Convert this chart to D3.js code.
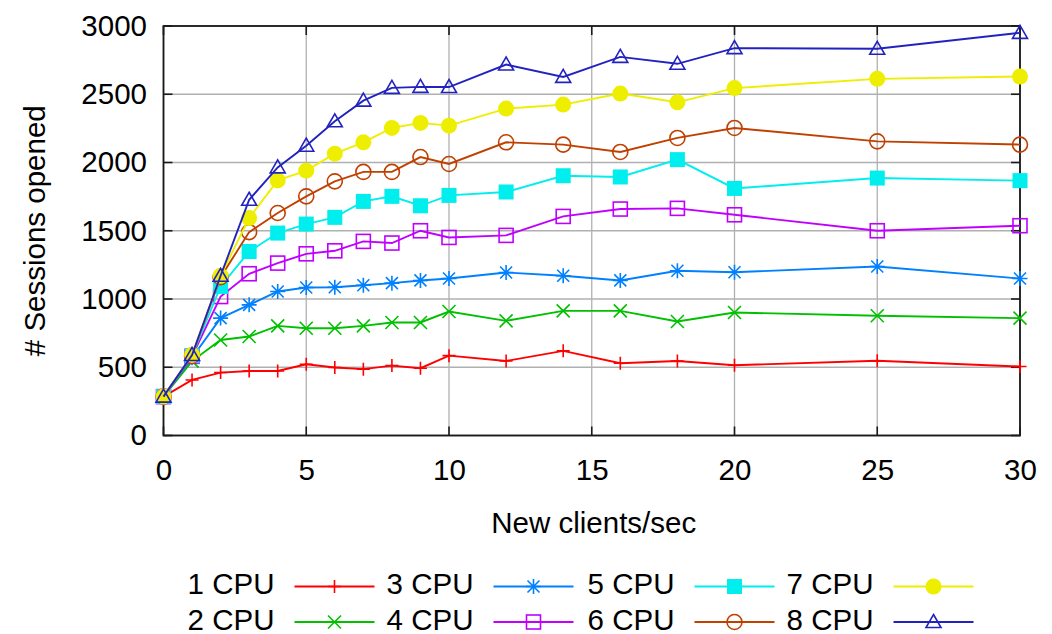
<!DOCTYPE html>
<html>
<head>
<meta charset="utf-8">
<script src="https://cdn.jsdelivr.net/npm/d3@7"></script>
<style>
  html, body { margin: 0; padding: 0; background: #fff; }
  svg { display: block; }
  text { font-family: "Liberation Sans", Arial, Helvetica, sans-serif; fill: #000; }
</style>
</head>
<body>
<svg id="chart" width="1052" height="634"></svg>
<script>
// ---- data ----
const xValues = [0, 1, 2, 3, 4, 5, 6, 7, 8, 9, 10, 12, 14, 16, 18, 20, 25, 30];
const seriesNames = ["1 CPU", "2 CPU", "3 CPU", "4 CPU", "5 CPU", "6 CPU", "7 CPU", "8 CPU"];
const cpu1 = [285, 407, 461, 473, 473, 522, 498, 486, 512, 493, 585, 546, 620, 529, 546, 515, 548, 505];
const cpu2 = [285, 545, 700, 725, 803, 786, 786, 803, 828, 828, 908, 840, 913, 913, 835, 901, 877, 860];
const cpu3 = [285, 570, 860, 957, 1055, 1084, 1086, 1101, 1116, 1136, 1150, 1194, 1170, 1136, 1207, 1196, 1238, 1150];
const cpu4 = [285, 580, 1018, 1185, 1263, 1331, 1353, 1422, 1410, 1500, 1451, 1466, 1605, 1659, 1664, 1617, 1500, 1537];
const cpu5 = [285, 585, 1092, 1348, 1483, 1549, 1598, 1715, 1752, 1683, 1759, 1784, 1903, 1894, 2021, 1810, 1886, 1867];
const cpu6 = [285, 585, 1160, 1490, 1630, 1752, 1862, 1931, 1931, 2040, 1989, 2148, 2131, 2077, 2180, 2253, 2155, 2131];
const cpu7 = [285, 590, 1170, 1593, 1869, 1940, 2065, 2148, 2253, 2290, 2270, 2395, 2424, 2505, 2441, 2545, 2613, 2630];
const cpu8 = [285, 590, 1170, 1727, 1964, 2123, 2302, 2453, 2547, 2554, 2553, 2718, 2627, 2774, 2723, 2838, 2833, 2950];
const xTicks = [0, 5, 10, 15, 20, 25, 30];
const yTicks = [0, 500, 1000, 1500, 2000, 2500, 3000];
const xLabel = "New clients/sec";
const yLabel = "# Sessions opened";

const allSeries = [cpu1, cpu2, cpu3, cpu4, cpu5, cpu6, cpu7, cpu8];
const colors = ["#ff0000", "#00c000", "#0080ff", "#c000ff", "#00eeee", "#c04000", "#eeee00", "#2222c0"];
const markers = ["plus", "cross", "star", "openSquare", "filledSquare", "openCircle", "filledCircle", "openTriangle"];

// ---- layout ----
const plotL = 163.5, plotR = 1020, plotT = 26, plotB = 435.5;
const FS = 29.5;
const x = d3.scaleLinear().domain([0, 30]).range([plotL, plotR]);
const y = d3.scaleLinear().domain([0, 3000]).range([plotB, plotT]);

const svg = d3.select("#chart");

// grid
const grid = svg.append("g");
grid.selectAll("line.gx").data(xTicks).join("line")
  .attr("x1", d => x(d)).attr("x2", d => x(d)).attr("y1", plotT).attr("y2", plotB)
  .attr("stroke", "#b0b0b0").attr("stroke-width", 1.3);
grid.selectAll("line.gy").data(yTicks).join("line")
  .attr("y1", d => y(d)).attr("y2", d => y(d)).attr("x1", plotL).attr("x2", plotR)
  .attr("stroke", "#b0b0b0").attr("stroke-width", 1.3);

// inward ticks (mirrored)
const tk = svg.append("g").attr("stroke", "#1a1a1a").attr("stroke-width", 1.6);
const TL = 9;
xTicks.forEach(d => {
  tk.append("line").attr("x1", x(d)).attr("x2", x(d)).attr("y1", plotB).attr("y2", plotB - TL);
  tk.append("line").attr("x1", x(d)).attr("x2", x(d)).attr("y1", plotT).attr("y2", plotT + TL);
});
yTicks.forEach(d => {
  tk.append("line").attr("y1", y(d)).attr("y2", y(d)).attr("x1", plotL).attr("x2", plotL + TL);
  tk.append("line").attr("y1", y(d)).attr("y2", y(d)).attr("x1", plotR).attr("x2", plotR - TL);
});

// axes labels via d3 axes
const xAxis = svg.append("g").attr("transform", `translate(0,${plotB})`)
  .call(d3.axisBottom(x).tickValues(xTicks).tickSize(0).tickPadding(23.5).tickFormat(d3.format("d")));
const yAxis = svg.append("g").attr("transform", `translate(${plotL},0)`)
  .call(d3.axisLeft(y).tickValues(yTicks).tickSize(0).tickPadding(16.5).tickFormat(d3.format("d")));
[xAxis, yAxis].forEach(a => {
  a.select(".domain").remove();
  a.selectAll("text").attr("font-size", FS).attr("font-family", "Liberation Sans, Arial, sans-serif").attr("fill", "#000");
});

// frame
svg.append("rect").attr("x", plotL).attr("y", plotT).attr("width", plotR - plotL).attr("height", plotB - plotT)
  .attr("fill", "none").attr("stroke", "#1a1a1a").attr("stroke-width", 1.8);

// axis titles
svg.append("text").attr("x", (plotL + plotR) / 2 + 2).attr("y", 533).attr("text-anchor", "middle")
  .attr("font-size", FS).text(xLabel);
svg.append("text").attr("transform", `translate(45,${(plotT + plotB) / 2}) rotate(-90)`)
  .attr("text-anchor", "middle").attr("font-size", FS).text(yLabel);

// marker drawing
function drawMarker(g, type, color) {
  const sw = 1.6;
  switch (type) {
    case "plus":
      g.append("path").attr("d", "M-6.5,0H6.5M0,-6.5V6.5").attr("stroke", color).attr("stroke-width", sw).attr("fill", "none"); break;
    case "cross":
      g.append("path").attr("d", "M-6.5,-6.5L6.5,6.5M-6.5,6.5L6.5,-6.5").attr("stroke", color).attr("stroke-width", sw).attr("fill", "none"); break;
    case "star":
      g.append("path").attr("d", "M-7.5,0H7.5M0,-7.5V7.5M-6,-6L6,6M-6,6L6,-6").attr("stroke", color).attr("stroke-width", sw).attr("fill", "none"); break;
    case "openSquare":
      g.append("rect").attr("x", -7).attr("y", -7).attr("width", 14).attr("height", 14).attr("stroke", color).attr("stroke-width", sw).attr("fill", "none"); break;
    case "filledSquare":
      g.append("rect").attr("x", -7.5).attr("y", -7.5).attr("width", 15).attr("height", 15).attr("fill", color); break;
    case "openCircle":
      g.append("circle").attr("r", 7.5).attr("stroke", color).attr("stroke-width", sw).attr("fill", "none"); break;
    case "filledCircle":
      g.append("circle").attr("r", 8).attr("fill", color); break;
    case "openTriangle":
      g.append("path").attr("d", "M0,-7.5L7.5,5.5L-7.5,5.5Z").attr("stroke", color).attr("stroke-width", sw).attr("fill", "none"); break;
  }
}

// series
const lineGen = d3.line().x((d, i) => x(xValues[i])).y(d => y(d));
allSeries.forEach((vals, si) => {
  const g = svg.append("g");
  g.append("path").attr("d", lineGen(vals)).attr("fill", "none").attr("stroke", colors[si]).attr("stroke-width", 1.9);
  vals.forEach((v, i) => {
    const m = g.append("g").attr("transform", `translate(${x(xValues[i])},${y(v)})`);
    drawMarker(m, markers[si], colors[si]);
  });
});

// legend: column-major, 2 rows x 4 columns
const legend = svg.append("g");
const colTextRight = [274.5, 473.5, 674.5, 873.5];
const rowY = [586.5, 622];
seriesNames.forEach((name, i) => {
  const col = Math.floor(i / 2), row = i % 2;
  const tr = colTextRight[col];
  const yy = rowY[row];
  legend.append("text").attr("x", tr).attr("y", yy + 7.5).attr("text-anchor", "end").attr("font-size", FS).text(name);
  const x1 = tr + 20, x2 = tr + 100;
  legend.append("line").attr("x1", x1).attr("x2", x2).attr("y1", yy).attr("y2", yy)
    .attr("stroke", colors[i]).attr("stroke-width", 1.9);
  const m = legend.append("g").attr("transform", `translate(${(x1 + x2) / 2},${yy})`);
  drawMarker(m, markers[i], colors[i]);
});
</script>
</body>
</html>
